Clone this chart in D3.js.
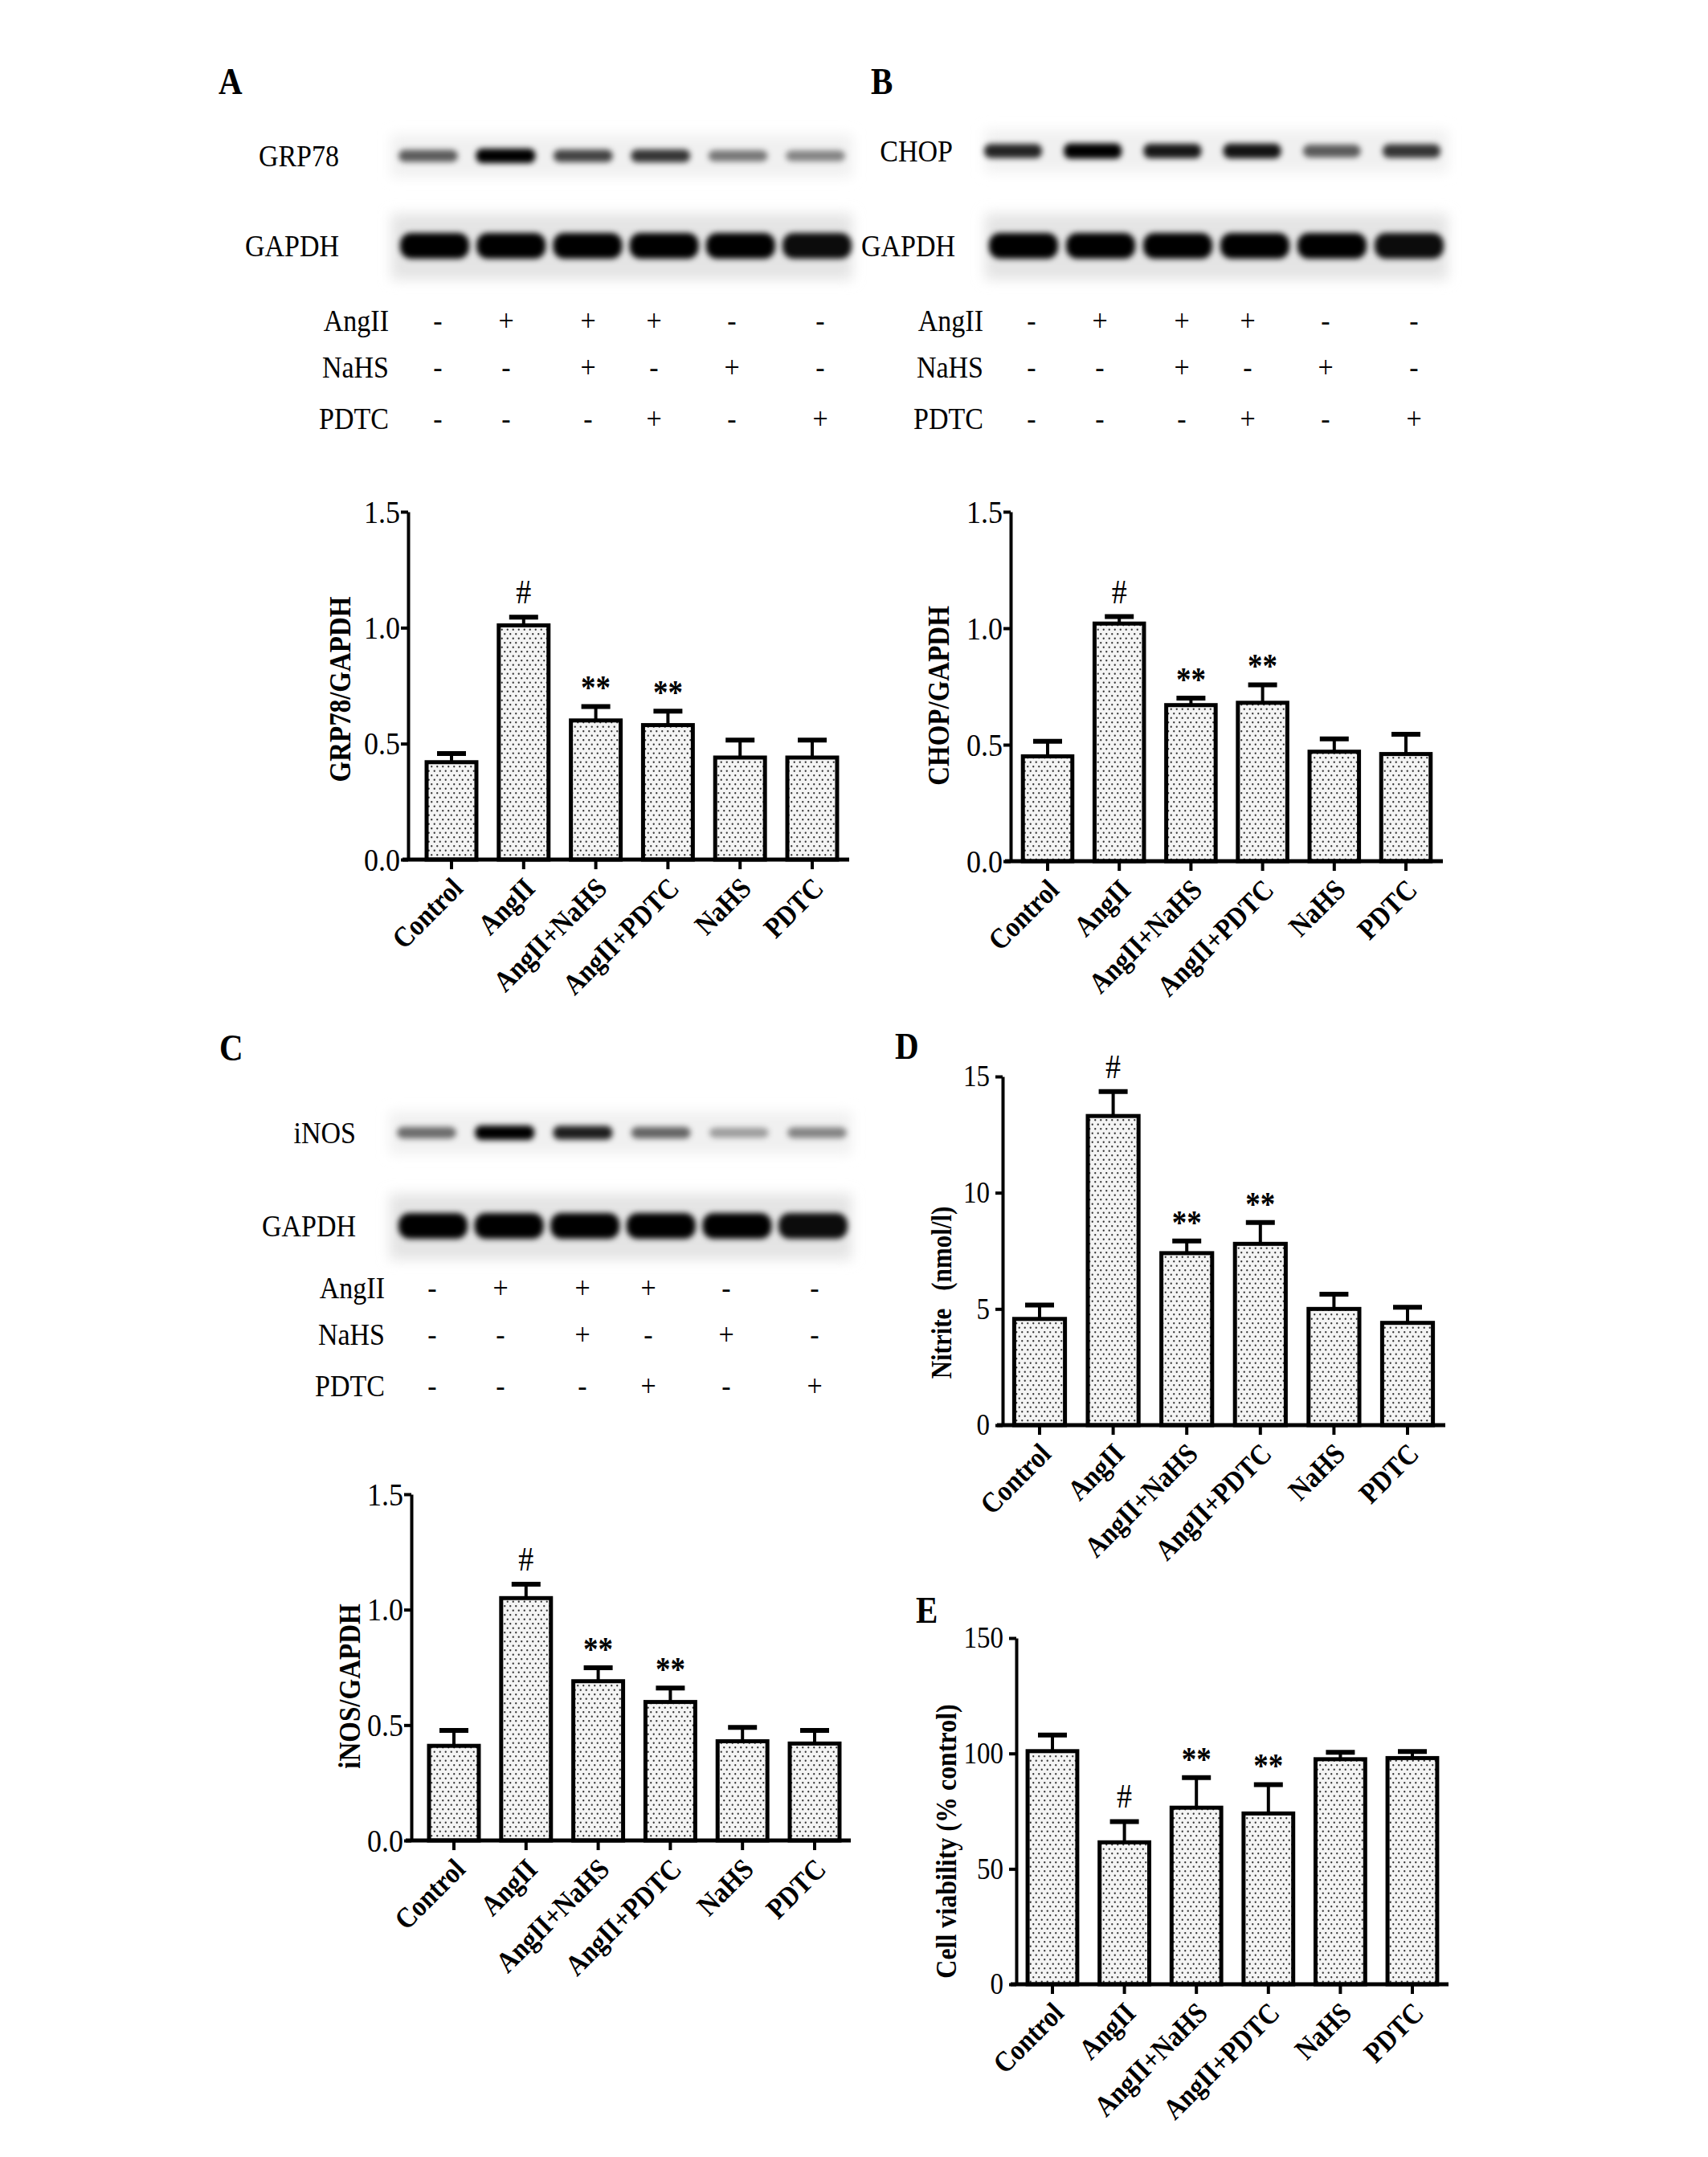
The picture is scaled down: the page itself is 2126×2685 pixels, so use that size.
<!DOCTYPE html>
<html>
<head>
<meta charset="utf-8">
<script src="https://cdn.jsdelivr.net/npm/d3@7"></script>
<style>
  body { margin: 0; background: #ffffff; }
</style>
</head>
<body>
<div id="chart"></div>
<script>
//////////
// data //
//////////

const categories = ['Control', 'AngII', 'AngII+NaHS', 'AngII+PDTC', 'NaHS', 'PDTC'];

// densitometry, mean and upper SD
const grp78Mean = [0.42, 1.01, 0.60, 0.58, 0.44, 0.44];
const grp78Err = [0.037, 0.035, 0.06, 0.06, 0.075, 0.075];
const chopMean = [0.45, 1.02, 0.67, 0.68, 0.47, 0.46];
const chopErr = [0.065, 0.03, 0.03, 0.077, 0.055, 0.085];
const inosMean = [0.41, 1.05, 0.69, 0.60, 0.43, 0.42];
const inosErr = [0.067, 0.06, 0.058, 0.06, 0.06, 0.057];
const nitriteMean = [4.57, 13.3, 7.4, 7.8, 5.0, 4.4];
const nitriteErr = [0.6, 1.05, 0.52, 0.92, 0.63, 0.67];
const viabilityMean = [101, 61.5, 76.5, 74, 97.5, 98];
const viabilityErr = [7, 9, 13, 12.5, 3, 2.8];

// significance marks above the bars
const sigMarks = ['', '#', '**', '**', '', ''];

// tick labels
const ratioTicks = [0, 0.5, 1.0, 1.5];
const nitriteTicks = [0, 5, 10, 15];
const viabilityTicks = [0, 50, 100, 150];

// treatment table under the blots
const treatRows = ['AngII', 'NaHS', 'PDTC'];
const laneAngII = ['-', '+', '+', '+', '-', '-'];
const laneNaHS = ['-', '-', '+', '-', '+', '-'];
const lanePDTC = ['-', '-', '-', '+', '-', '+'];

// band darkness (0..1)
const grp78Bands = [0.62, 1.0, 0.72, 0.78, 0.5, 0.45];
const chopBands = [0.85, 1.0, 0.9, 0.92, 0.62, 0.78];
const inosBands = [0.55, 1.0, 0.88, 0.58, 0.35, 0.45];
const gapdhBands = [1, 1, 1, 1, 1, 0.95];

///////////////
// constants //
///////////////

var svg;

const chartWidth = 2126;
const chartHeight = 2685;
const serif = '"Liberation Serif", "Times New Roman", serif';
// the figure's type is a tall, narrow Times
const stretch = ' scale(1,1.13)';

// sign columns sit at these offsets from the first lane
const signOffsets = [0, 85, 187, 269, 366, 476];

const blotA = {
	target: 'GRP78', bands: grp78Bands, labelX: 422,
	targetY: 194, targetH: 18, targetW: 74, targetLanes: [533, 1015],
	gapdhY: 306, gapdhLanes: [541, 1017], gapdhLabelX: 422,
	stripX: [487, 1061], rowLabelX: 484, signX: 545, rowY: [399, 457, 521]
};
const blotB = {
	target: 'CHOP', bands: chopBands, labelX: 1186,
	targetY: 188, targetH: 19, targetW: 72, targetLanes: [1261, 1757],
	gapdhY: 306, gapdhLanes: [1274, 1754], gapdhLabelX: 1189,
	stripX: [1226, 1802], rowLabelX: 1224, signX: 1284, rowY: [399, 457, 521]
};
const blotC = {
	target: 'iNOS', bands: inosBands, labelX: 443,
	targetY: 1410, targetH: 18, targetW: 74, targetLanes: [531, 1017],
	gapdhY: 1526, gapdhLanes: [539, 1012], gapdhLabelX: 443,
	stripX: [485, 1060], rowLabelX: 479, signX: 538, rowY: [1603, 1661, 1725]
};

const chartA = {
	means: grp78Mean, errs: grp78Err, ticks: ratioTicks, fmt: '.1f', yMax: 1.5,
	axisX: 508, axisEnd: 1057, firstX: 562, lastX: 1011, top: 637, bottom: 1070,
	title: ['GRP78/GAPDH'], titleX: 423, titleY: 858, titleFont: 33, tickFont: 36, tickPad: 1
};
const chartB = {
	means: chopMean, errs: chopErr, ticks: ratioTicks, fmt: '.1f', yMax: 1.5,
	axisX: 1258, axisEnd: 1796, firstX: 1304, lastX: 1750, top: 637, bottom: 1072,
	title: ['CHOP/GAPDH'], titleX: 1168, titleY: 866, titleFont: 33, tickFont: 36, tickPad: 1
};
const chartC = {
	means: inosMean, errs: inosErr, ticks: ratioTicks, fmt: '.1f', yMax: 1.5,
	axisX: 512, axisEnd: 1059, firstX: 565, lastX: 1014, top: 1860, bottom: 2291,
	title: ['iNOS/GAPDH'], titleX: 435, titleY: 2099, titleFont: 33, tickFont: 36, tickPad: 1
};
const chartD = {
	means: nitriteMean, errs: nitriteErr, ticks: nitriteTicks, fmt: 'd', yMax: 15,
	axisX: 1248, axisEnd: 1799, firstX: 1294, lastX: 1752, top: 1340, bottom: 1774,
	title: ['Nitrite', '(nmol/l)'], titleX: 1172, titleY: 1609, titleFont: 31, tickFont: 33, tickPad: 7
};
const chartE = {
	means: viabilityMean, errs: viabilityErr, ticks: viabilityTicks, fmt: 'd', yMax: 150,
	axisX: 1265, axisEnd: 1803, firstX: 1310, lastX: 1758, top: 2039, bottom: 2470,
	title: ['Cell viability (% control)'], titleX: 1177, titleY: 2292, titleFont: 32, tickFont: 33, tickPad: 7
};

////////////////
// draw image //
////////////////

setUpImage();
drawBlot(blotA);
drawBlot(blotB);
drawBlot(blotC);
drawBarChart(chartA);
drawBarChart(chartB);
drawBarChart(chartC);
drawBarChart(chartD);
drawBarChart(chartE);
drawPanelLetters();

///////////////
// functions //
///////////////

function setUpImage() {
	svg = d3.select('#chart').append('svg')
		.attr('width', chartWidth)
		.attr('height', chartHeight)
		.style('font-family', serif);

	svg.append('rect')
		.attr('width', '100%')
		.attr('height', '100%')
		.attr('fill', '#ffffff');

	var defs = svg.append('defs');

	// dotted bar fill
	var pat = defs.append('pattern')
		.attr('id', 'dots')
		.attr('patternUnits', 'userSpaceOnUse')
		.attr('width', 7)
		.attr('height', 11);
	pat.append('rect').attr('width', 7).attr('height', 11).attr('fill', '#f4f4f4');
	pat.append('circle').attr('cx', 1.75).attr('cy', 2.75).attr('r', 1.15).attr('fill', '#333');
	pat.append('circle').attr('cx', 5.25).attr('cy', 8.25).attr('r', 1.15).attr('fill', '#333');

	// blur for the blot bands
	defs.append('filter')
		.attr('id', 'band')
		.attr('x', '-40%').attr('y', '-150%')
		.attr('width', '180%').attr('height', '400%')
		.append('feGaussianBlur').attr('stdDeviation', 3.5);

	defs.append('filter')
		.attr('id', 'soft')
		.attr('x', '-10%').attr('y', '-50%')
		.attr('width', '120%').attr('height', '200%')
		.append('feGaussianBlur').attr('stdDeviation', 8);
}

// text placed by transform so it can be stretched like the original type
function addText(g, x, y, str, size, anchor, weight) {
	return g.append('text')
		.attr('transform', 'translate(' + x + ',' + y + ')' + stretch)
		.attr('dy', '0.35em')
		.attr('text-anchor', anchor)
		.attr('font-size', size)
		.attr('font-weight', weight || 'normal')
		.text(str);
}

function drawBlot(b) {
	var g = svg.append('g');
	var lanes = d3.range(6);
	var targetX = d3.scalePoint().domain(lanes).range(b.targetLanes);
	var gapdhX = d3.scalePoint().domain(lanes).range(b.gapdhLanes);

	// membrane background
	g.append('rect')
		.attr('x', b.stripX[0]).attr('width', b.stripX[1] - b.stripX[0])
		.attr('y', b.targetY - 26).attr('height', 52)
		.attr('fill', '#f0f0f0').attr('filter', 'url(#soft)');
	g.append('rect')
		.attr('x', b.stripX[0]).attr('width', b.stripX[1] - b.stripX[0])
		.attr('y', b.gapdhY - 40).attr('height', 82)
		.attr('fill', '#e4e4e4').attr('filter', 'url(#soft)');

	// target protein bands
	g.selectAll('.tband').data(b.bands).join('rect')
		.attr('class', 'tband')
		.attr('x', (d, i) => targetX(i) - b.targetW / 2)
		.attr('y', d => b.targetY - b.targetH * (0.55 + 0.45 * d) / 2)
		.attr('width', b.targetW)
		.attr('height', d => b.targetH * (0.55 + 0.45 * d))
		.attr('rx', 8)
		.attr('fill', '#000')
		.attr('fill-opacity', d => d)
		.attr('filter', 'url(#band)');

	// loading control
	g.selectAll('.gband').data(gapdhBands).join('rect')
		.attr('class', 'gband')
		.attr('x', (d, i) => gapdhX(i) - 43)
		.attr('y', b.gapdhY - 16)
		.attr('width', 86)
		.attr('height', 32)
		.attr('rx', 14)
		.attr('fill', '#000')
		.attr('fill-opacity', d => d)
		.attr('filter', 'url(#band)');

	addText(g, b.labelX, b.targetY, b.target, 34, 'end');
	addText(g, b.gapdhLabelX, b.gapdhY, 'GAPDH', 34, 'end');

	// treatment table
	var signs = [laneAngII, laneNaHS, lanePDTC];
	treatRows.forEach(function(row, r) {
		addText(g, b.rowLabelX, b.rowY[r], row, 34, 'end');
		signs[r].forEach(function(s, i) {
			addText(g, b.signX + signOffsets[i], b.rowY[r], s, 34, 'middle');
		});
	});
}

function drawBarChart(c) {
	var g = svg.append('g');
	var step = (c.lastX - c.firstX) / (categories.length - 1);

	var x = d3.scaleBand()
		.domain(categories)
		.range([c.firstX - step / 2, c.lastX + step / 2])
		.paddingInner(0.31)
		.paddingOuter(0.155);

	var y = d3.scaleLinear()
		.domain([0, c.yMax])
		.range([c.bottom, c.top]);

	var cx = function(i) { return x(categories[i]) + x.bandwidth() / 2; };

	// bars
	g.selectAll('.bar').data(c.means).join('rect')
		.attr('class', 'bar')
		.attr('x', (d, i) => x(categories[i]))
		.attr('y', d => y(d))
		.attr('width', x.bandwidth())
		.attr('height', d => y(0) - y(d))
		.attr('fill', 'url(#dots)')
		.attr('stroke', '#000')
		.attr('stroke-width', 5);

	// upper error bars
	g.selectAll('.err').data(c.means).join('line')
		.attr('class', 'err')
		.attr('x1', (d, i) => cx(i)).attr('x2', (d, i) => cx(i))
		.attr('y1', d => y(d))
		.attr('y2', (d, i) => y(d + c.errs[i]))
		.attr('stroke', '#000').attr('stroke-width', 4);
	g.selectAll('.cap').data(c.means).join('line')
		.attr('class', 'cap')
		.attr('x1', (d, i) => cx(i) - 18).attr('x2', (d, i) => cx(i) + 18)
		.attr('y1', (d, i) => y(d + c.errs[i]))
		.attr('y2', (d, i) => y(d + c.errs[i]))
		.attr('stroke', '#000').attr('stroke-width', 6);

	// y axis
	var yAxis = d3.axisLeft(y)
		.tickValues(c.ticks)
		.tickSize(9)
		.tickSizeOuter(0)
		.tickPadding(c.tickPad)
		.tickFormat(d3.format(c.fmt));
	var ya = g.append('g')
		.attr('transform', 'translate(' + c.axisX + ',0)')
		.call(yAxis)
		.attr('font-family', serif)
		.attr('font-size', c.tickFont);
	ya.select('.domain').attr('stroke', '#000').attr('stroke-width', 4);
	ya.selectAll('.tick line').attr('stroke', '#000').attr('stroke-width', 4);
	ya.selectAll('.tick text').attr('fill', '#000').attr('transform', stretch);

	// x axis
	var xAxis = d3.axisBottom(x)
		.tickSize(12)
		.tickSizeOuter(0)
		.tickFormat('');
	var xa = g.append('g')
		.attr('transform', 'translate(0,' + c.bottom + ')')
		.call(xAxis);
	xa.select('.domain').remove();
	xa.selectAll('.tick line').attr('stroke', '#000').attr('stroke-width', 4);
	g.append('line')
		.attr('x1', c.axisX - 7).attr('x2', c.axisEnd)
		.attr('y1', c.bottom).attr('y2', c.bottom)
		.attr('stroke', '#000').attr('stroke-width', 5);

	g.selectAll('.cat').data(categories).join('text')
		.attr('class', 'cat')
		.attr('transform', d => 'translate(' + (x(d) + x.bandwidth() / 2 + 16) + ',' + (c.bottom + 38) + ') rotate(-45)' + stretch)
		.attr('text-anchor', 'end')
		.attr('font-size', 32)
		.attr('font-weight', 'bold')
		.text(d => d);

	// significance
	g.selectAll('.sig').data(sigMarks).join('text')
		.attr('class', 'sig')
		.attr('transform', (d, i) => 'translate(' + cx(i) + ',' + (y(c.means[i] + c.errs[i]) - (d === '#' ? 17 : 9)) + ')' + stretch)
		.attr('text-anchor', 'middle')
		.attr('font-size', d => d === '#' ? 38 : 37)
		.attr('font-weight', d => d === '#' ? 'normal' : 'bold')
		.text(d => d);

	// y title
	var t = g.append('text')
		.attr('transform', 'translate(' + c.titleX + ',' + c.titleY + ') rotate(-90)' + stretch)
		.attr('text-anchor', 'middle')
		.attr('dy', '0.35em')
		.attr('font-size', c.titleFont)
		.attr('font-weight', 'bold');
	c.title.forEach(function(part, i) {
		t.append('tspan').attr('dx', i === 0 ? 0 : 22).text(part);
	});
}

function drawPanelLetters() {
	var letters = [['A', 272, 117], ['B', 1084, 117], ['C', 273, 1320], ['D', 1114, 1318], ['E', 1140, 2020]];
	svg.selectAll('.letter').data(letters).join('text')
		.attr('class', 'letter')
		.attr('transform', d => 'translate(' + d[1] + ',' + d[2] + ')' + stretch)
		.attr('font-size', 41)
		.attr('font-weight', 'bold')
		.text(d => d[0]);
}
</script>
</body>
</html>
